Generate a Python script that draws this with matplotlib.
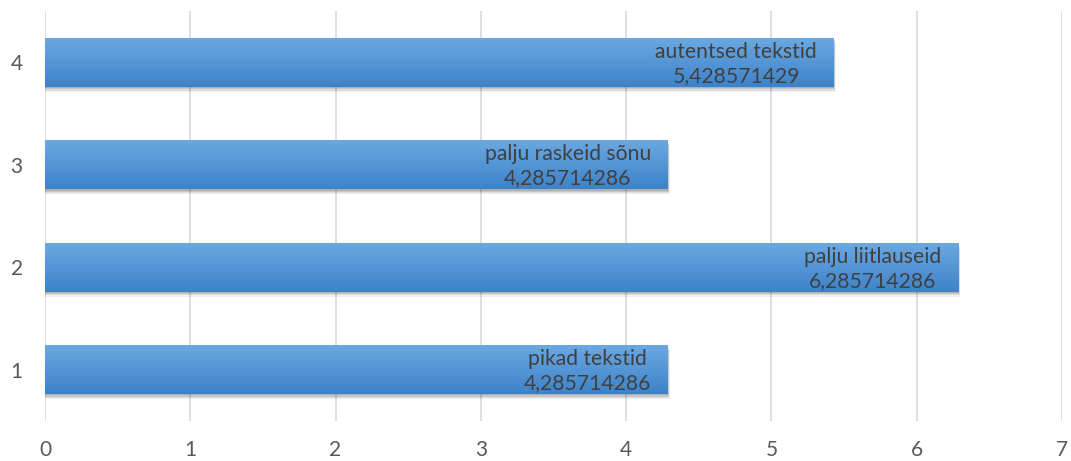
import matplotlib.pyplot as plt
import matplotlib.colors as mcolors
import numpy as np

categories = ['1', '2', '3', '4']
values = [4.285714286, 6.285714286, 4.285714286, 5.428571429]
names = ['pikad tekstid', 'palju liitlauseid', 'palju raskeid sõnu', 'autentsed tekstid']
value_labels = ['4,285714286', '6,285714286', '4,285714286', '5,428571429']

plt.rcParams['font.family'] = ['Lato', 'DejaVu Sans']

fig = plt.figure(figsize=(10.71, 4.61), dpi=100)
ax = fig.add_axes([0.042, 0.087, 0.9496, 0.889])

pos = np.arange(1, len(categories) + 1)
h = 0.48

# soft shadow: a few offset translucent grey bars
for k, a in enumerate([0.10, 0.10, 0.08, 0.06]):
    off = 0.012 + k * 0.012
    ax.barh(pos - off, np.array(values) + off * 0.3, height=h, left=0,
            color='#000000', alpha=a, linewidth=0, zorder=2)

bars = ax.barh(pos, values, height=h, color='#5B9BD5', linewidth=0, zorder=3)

# vertical gradient inside each bar
cmap = mcolors.LinearSegmentedColormap.from_list('g', ['#3C83C9', '#6DA9E2'])
grad = np.linspace(0, 1, 100).reshape(-1, 1)
for b in bars:
    x0, y0 = b.get_x(), b.get_y()
    im = ax.imshow(grad, cmap=cmap, aspect='auto', origin='lower',
                   extent=[x0, x0 + b.get_width(), y0, y0 + b.get_height()],
                   zorder=4)
    im.set_clip_path(b)

for p, v, n, s in zip(pos, values, names, value_labels):
    ax.annotate(n + '\n' + s, xy=(v, p), xytext=(-12, -1), textcoords='offset points',
                ha='right', va='center', multialignment='center',
                fontsize=15.2, color='#404040', zorder=5, linespacing=1.25)

ax.set_xlim(0, 7)
ax.set_ylim(0.5, 4.5)
ax.set_xticks(range(0, 8))
ax.set_yticks(pos)
ax.set_yticklabels(categories)
ax.grid(axis='x', color='#D9D9D9', linewidth=1.2, zorder=0)
ax.set_axisbelow(True)
for sp in ax.spines.values():
    sp.set_visible(False)
ax.tick_params(length=0, labelsize=15, colors='#595959')
ax.tick_params(axis='x', pad=14)
ax.tick_params(axis='y', pad=16)

fig.savefig('out.png', dpi=100)
